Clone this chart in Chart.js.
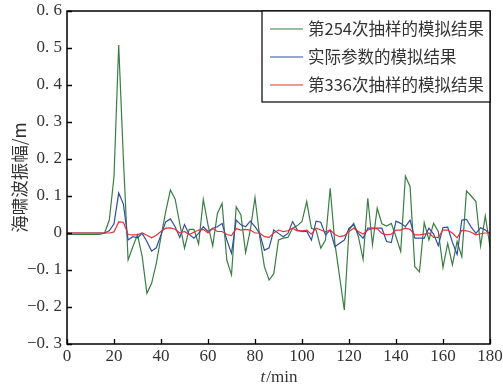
<!DOCTYPE html>
<html>
<head>
<meta charset="utf-8">
<script src="https://cdn.jsdelivr.net/npm/chart.js@4/dist/chart.umd.min.js"></script>
<style>
  html, body { margin: 0; padding: 0; background: #fff; }
  #wrap { width: 503px; height: 387px; }
</style>
</head>
<body>
<div id="wrap"><canvas id="waveChart"></canvas></div>
<script>
// 时间 (min)
const times = [0, 2, 4, 6, 8, 10, 12, 14, 16, 18, 20, 22, 24, 26, 28, 30, 32, 34, 36, 38,
  40, 42, 44, 46, 48, 50, 52, 54, 56, 58, 60, 62, 64, 66, 68, 70, 72, 74, 76, 78,
  80, 82, 84, 86, 88, 90, 92, 94, 96, 98, 100, 102, 104, 106, 108, 110, 112, 114, 116, 118,
  120, 122, 124, 126, 128, 130, 132, 134, 136, 138, 140, 142, 144, 146, 148, 150, 152, 154, 156, 158,
  160, 162, 164, 166, 168, 170, 172, 174, 176, 178, 180];

// 第254次抽样
const sample254 = [-0.004, -0.004, -0.004, -0.004, -0.004, -0.004, -0.004, -0.004, 0.0, 0.035,
  0.152, 0.508, 0.2, -0.073, -0.037, -0.005, -0.064, -0.163, -0.136, -0.082,
  -0.01, 0.058, 0.116, 0.092, 0.025, -0.041, 0.01, 0.01, -0.03, 0.091,
  0.022, -0.035, 0.053, 0.08, -0.073, -0.113, 0.071, 0.049, -0.053, 0.008,
  0.096, -0.01, -0.091, -0.127, -0.11, -0.019, -0.014, -0.012, 0.013, 0.02,
  0.031, 0.085, 0.013, 0.008, -0.041, -0.019, 0.121, -0.028, -0.118, -0.208,
  0.008, 0.026, -0.01, -0.071, 0.094, -0.032, 0.067, 0.025, 0.019, 0.026,
  -0.01, -0.05, 0.154, 0.125, -0.091, -0.105, 0.028, -0.019, 0.026, 0.004,
  -0.093, -0.028, -0.086, -0.023, -0.064, 0.114, 0.1, 0.085, -0.035, 0.046, -0.037];

// 实际参数
const actual = [0, 0, 0, 0, 0, 0, 0, 0, 0, 0.006,
  0.025, 0.108, 0.078, -0.019, -0.01, -0.013, -0.001, -0.023, -0.049, -0.04,
  -0.005, 0.03, 0.038, 0.017, -0.012, 0.023, -0.004, -0.014, -0.001, 0.017,
  0.004, 0.013, 0.017, 0.026, -0.019, -0.055, 0.035, 0.022, 0.017, 0.032,
  0.017, -0.001, -0.047, -0.04, 0.008, -0.001, -0.01, -0.001, 0.031, 0.008,
  0.004, 0.005, -0.019, 0.032, 0.029, -0.005, 0.008, -0.037, -0.028, -0.019,
  0.013, 0.022, -0.001, -0.014, 0.013, 0.013, 0.013, 0.013, -0.023, -0.026,
  0.032, 0.026, 0.017, 0.035, -0.014, -0.014, -0.014, 0.013, -0.003, -0.034,
  0.015, 0.016, -0.025, -0.058, 0.035, 0.037, 0.016, -0.001, 0.014, 0.008, -0.002];

// 第336次抽样
const sample336 = [0, 0, 0, 0, 0, 0, 0, 0, 0, 0,
  0.003, 0.03, 0.029, -0.004, -0.005, -0.005, 0.0, -0.006, -0.013, -0.006,
  0.004, 0.013, 0.014, 0.01, 0.0, 0.004, -0.004, 0.002, 0.008, 0.01,
  0.0, 0.012, 0.004, 0.004, -0.004, -0.007, 0.012, 0.008, 0.01, 0.008,
  0.0, 0.0, -0.01, -0.012, 0.0, 0.008, 0.004, 0.006, 0.013, 0.006,
  0.006, 0.008, -0.003, 0.013, 0.008, 0.003, 0.008, -0.004, -0.01, -0.007,
  0.004, 0.013, 0.004, -0.003, 0.008, 0.012, 0.012, -0.001, -0.005, -0.003,
  0.008, 0.008, 0.013, 0.01, -0.005, -0.005, -0.003, 0.0, -0.012, -0.012,
  0.008, 0.008, 0.0, -0.013, 0.007, 0.006, 0.002, -0.005, -0.002, 0.0, 0.0];

const seriesLabels = ['第254次抽样的模拟结果', '实际参数的模拟结果', '第336次抽样的模拟结果'];
const xTicks = [0, 20, 40, 60, 80, 100, 120, 140, 160, 180];
const yTicks = [-0.3, -0.2, -0.1, 0, 0.1, 0.2, 0.3, 0.4, 0.5, 0.6];

const toPoints = vals => vals.map((v, i) => ({ x: times[i], y: v }));

const serifFont = { family: '"Liberation Serif", "DejaVu Serif", serif', size: 17 };
const cjkFont = '"Noto Sans CJK SC", sans-serif';

// 坐标框、内向刻度、图例、轴标题
const frame = {
  id: 'frame',
  afterDatasetsDraw(chart) {
    const { ctx, chartArea: a, scales: { x, y } } = chart;
    ctx.save();
    ctx.strokeStyle = '#000';
    ctx.lineWidth = 1.3;
    ctx.beginPath();
    x.ticks.forEach((t, i) => {
      const px = Math.round(x.getPixelForTick(i)) + 0.5;
      ctx.moveTo(px, a.bottom); ctx.lineTo(px, a.bottom - 5);
    });
    y.ticks.forEach((t, i) => {
      const py = Math.round(y.getPixelForTick(i)) + 0.5;
      ctx.moveTo(a.left, py); ctx.lineTo(a.left + 5, py);
    });
    ctx.stroke();
    ctx.lineWidth = 1.5;
    ctx.strokeRect(a.left, a.top, a.right - a.left, a.bottom - a.top);

    // 图例
    const bx = 262, bw = a.right - bx, bh = 91;
    ctx.fillStyle = '#fff';
    ctx.fillRect(bx, a.top, bw, bh);
    ctx.lineWidth = 1.2;
    ctx.strokeRect(bx, a.top, bw, bh);
    ctx.font = '16.5px ' + cjkFont;
    ctx.textBaseline = 'middle';
    ctx.textAlign = 'left';
    chart.data.datasets.forEach((ds, i) => {
      const ly = a.top + 18 + i * 28;
      ctx.strokeStyle = ds.borderColor;
      ctx.lineWidth = 1.2;
      ctx.beginPath();
      ctx.moveTo(270, ly); ctx.lineTo(303, ly);
      ctx.stroke();
      ctx.fillStyle = '#333';
      ctx.fillText(ds.label, 308, ly);
    });

    // x 轴标题
    ctx.fillStyle = '#333';
    ctx.font = 'italic 17px ' + serifFont.family;
    const tW = ctx.measureText('t').width;
    ctx.font = '17px ' + serifFont.family;
    const restW = ctx.measureText('/min').width;
    const cx = (a.left + a.right) / 2;
    const sx = cx - (tW + restW) / 2;
    ctx.font = 'italic 17px ' + serifFont.family;
    ctx.fillText('t', sx, 378);
    ctx.font = '17px ' + serifFont.family;
    ctx.fillText('/min', sx + tW + 1, 378);

    // y 轴标题
    ctx.translate(19, (a.top + a.bottom) / 2);
    ctx.rotate(-Math.PI / 2);
    ctx.textAlign = 'center';
    ctx.font = '17.5px ' + cjkFont;
    ctx.fillText('海啸波振幅/m', 0, 0);
    ctx.restore();
  }
};

new Chart(document.getElementById('waveChart'), {
  type: 'line',
  data: {
    datasets: [
      { label: seriesLabels[0], data: toPoints(sample254), borderColor: '#3b7d45', order: 3 },
      { label: seriesLabels[1], data: toPoints(actual), borderColor: '#2f4f9e', order: 2 },
      { label: seriesLabels[2], data: toPoints(sample336), borderColor: '#e53338', order: 1 }
    ]
  },
  options: {
    responsive: true,
    maintainAspectRatio: false,
    animation: false,
    elements: {
      line: { borderWidth: 1.2, tension: 0, fill: false },
      point: { radius: 0 }
    },
    layout: { padding: { top: 11, right: 13, left: 0, bottom: 0 } },
    plugins: { legend: { display: false }, tooltip: { enabled: false } },
    scales: {
      x: {
        type: 'linear',
        min: 0, max: 180,
        afterBuildTicks: s => { s.ticks = xTicks.map(v => ({ value: v })); },
        afterFit: s => { s.height = 43; s.paddingLeft = 0; s.paddingRight = 0; },
        grid: { display: false, drawTicks: false },
        border: { display: false },
        ticks: { color: '#333', font: serifFont, padding: 2, maxRotation: 0 }
      },
      y: {
        min: -0.3, max: 0.6,
        afterBuildTicks: s => { s.ticks = yTicks.map(v => ({ value: v })); },
        afterFit: s => { s.width = 67; s.paddingTop = 0; s.paddingBottom = 0; },
        grid: { display: false, drawTicks: false },
        border: { display: false },
        ticks: {
          color: '#333', font: serifFont, padding: 5,
          callback: v => {
            const r = Math.round(v * 10) / 10;
            if (r === 0) return '0';
            return (r < 0 ? '−' : '') + Math.abs(r).toFixed(1).replace('.', '. ');
          }
        }
      }
    }
  },
  plugins: [frame]
});
</script>
</body>
</html>
